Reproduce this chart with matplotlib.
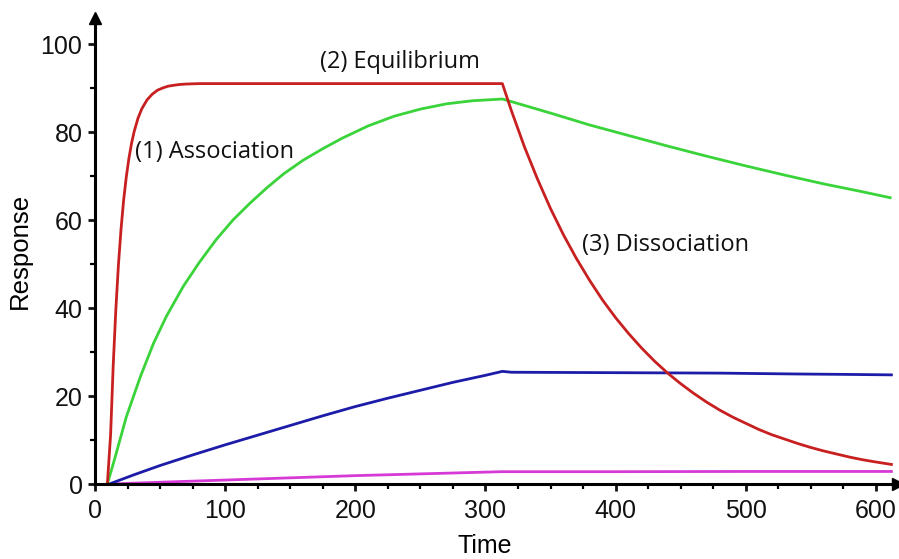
import matplotlib
matplotlib.use("Agg")
import matplotlib.pyplot as plt
from matplotlib.ticker import MultipleLocator

# ---- data ----
red_t = [9.5, 12, 14, 16, 18, 20, 22, 24, 26, 28, 30, 33, 36, 40, 44, 48, 52,
         56, 60, 65, 70, 80, 313,
         320, 330, 340, 350, 360, 370, 380, 390, 400, 410, 420, 430, 440, 450,
         460, 470, 480, 490, 500, 510, 520, 530, 540, 550, 560, 570, 580, 590,
         600, 613]
red_y = [0, 11.3, 27.0, 39.6, 49.8, 57.9, 64.5, 69.7, 73.9, 77.3, 80.0, 83.1,
         85.3, 87.3, 88.6, 89.5, 90.0, 90.4, 90.6, 90.8, 90.9, 91, 91,
         84.8, 76.6, 69.3, 62.6, 56.6, 51.2, 46.3, 41.8, 37.8, 34.2, 30.9, 27.9,
         25.2, 22.8, 20.6, 18.6, 16.8, 15.2, 13.8, 12.4, 11.2, 10.2, 9.2, 8.3,
         7.5, 6.8, 6.1, 5.5, 5.0, 4.4]

green_t = [9.5, 15, 24, 35, 45, 55, 68, 80, 93, 106, 119, 132, 145, 160, 175,
           190, 210, 230, 250, 270, 290, 313, 320, 350, 380, 410, 440, 470,
           500, 530, 560, 590, 612]
green_y = [0, 5.6, 15.2, 24.5, 32, 38.2, 45, 50.3, 55.5, 60, 63.8, 67.3, 70.5,
           73.6, 76.2, 78.6, 81.4, 83.6, 85.2, 86.4, 87.1, 87.5, 86.9, 84.3,
           81.6, 79.2, 76.8, 74.5, 72.3, 70.2, 68.2, 66.4, 65.0]

blue_t = [11, 30, 50, 75, 100, 125, 150, 175, 200, 225, 250, 275, 300, 313,
          320, 400, 480, 540, 580, 613]
blue_y = [0, 2.1, 4.2, 6.6, 8.9, 11.1, 13.3, 15.5, 17.6, 19.5, 21.3, 23.1, 24.7,
          25.6, 25.4, 25.3, 25.2, 25.0, 24.9, 24.8]

mag_t = [12, 50, 100, 150, 200, 250, 300, 313, 400, 500, 613]
mag_y = [0, 0.4, 0.9, 1.4, 1.9, 2.3, 2.7, 2.8, 2.8, 2.85, 2.85]

x_ticks = [0, 100, 200, 300, 400, 500, 600]
y_ticks = [0, 20, 40, 60, 80, 100]

labels = ["(1) Association", "(2) Equilibrium", "(3) Dissociation"]
label_pos = [(31, 75.5), (173, 96), (374, 54.3)]

# ---- figure ----
fig = plt.figure(figsize=(8.99, 5.59), dpi=100)
ax = fig.add_axes([95 / 899, 1 - 484 / 559, (898 - 95) / 899, (484 - 17.6) / 559])

lw = 2.0
ax.plot(mag_t, mag_y, color="#d63ad6", lw=lw, solid_capstyle="butt")
ax.plot(blue_t, blue_y, color="#1c1ca8", lw=lw, solid_capstyle="butt")
ax.plot(green_t, green_y, color="#3ad43a", lw=lw, solid_capstyle="butt")
ax.plot(red_t, red_y, color="#c82020", lw=lw, solid_capstyle="butt")

ax.set_xlim(0, 617)
ax.set_ylim(0, 106)

for s in ["top", "right"]:
    ax.spines[s].set_visible(False)
for s in ["left", "bottom"]:
    ax.spines[s].set_linewidth(2.2)
    ax.spines[s].set_zorder(5)

# arrows at the axis ends
ax.plot(1, 0, ">k", ms=8, transform=ax.get_yaxis_transform(), clip_on=False)
ax.plot(0, 1, "^k", ms=8, transform=ax.get_xaxis_transform(), clip_on=False)

ax.set_xticks(x_ticks)
ax.set_yticks(y_ticks)
ax.xaxis.set_minor_locator(MultipleLocator(25))
ax.yaxis.set_minor_locator(MultipleLocator(10))
ax.tick_params(which="major", direction="out", length=5, width=2, labelsize=18,
               colors="#111111")
ax.tick_params(which="minor", direction="out", length=3.5, width=1.6)
ax.tick_params(axis="x", which="major", pad=6)
ax.tick_params(axis="y", which="major", pad=4)

tick_font = "Liberation Sans"
for lab in ax.get_xticklabels() + ax.get_yticklabels():
    lab.set_fontfamily(tick_font)

ax.set_xlabel("Time", fontsize=18, fontfamily=tick_font, labelpad=0)
ax.set_ylabel("Response", fontsize=18.5, fontfamily=tick_font, labelpad=6)
ax.xaxis.set_label_coords(0.485, -0.108)

for txt, (tx, ty) in zip(labels, label_pos):
    ax.text(tx, ty, txt, fontsize=17, fontfamily="Open Sans", va="center",
            ha="left", color="#111111")

fig.savefig("out.png", dpi=100)
